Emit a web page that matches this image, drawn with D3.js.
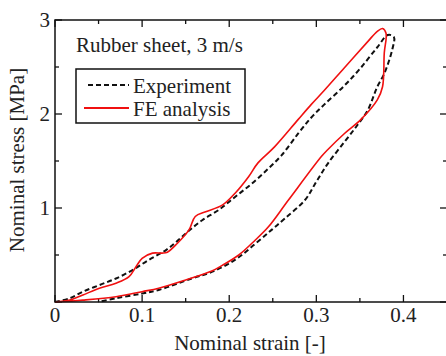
<!DOCTYPE html>
<html>
<head>
<meta charset="utf-8">
<script src="https://cdn.jsdelivr.net/npm/d3@7"></script>
<style>
  body { margin: 0; background: #fff; }
  svg { display: block; }
  text { font-family: "Liberation Serif", "Times New Roman", serif; fill: #222; }
</style>
</head>
<body>
<div id="chart"></div>
<script>
// data (loading then unloading, one loop per series)
const expStrain = [0, 0.017, 0.032, 0.051, 0.07, 0.089, 0.108, 0.127, 0.14, 0.154, 0.169, 0.188, 0.207, 0.226, 0.245, 0.26, 0.279, 0.294, 0.309, 0.332, 0.35, 0.37, 0.382, 0.389,
  0.387, 0.378, 0.37, 0.359, 0.347, 0.332, 0.313, 0.3, 0.287, 0.264, 0.249, 0.23, 0.207, 0.18, 0.157, 0.119, 0.1, 0.07, 0.05];
const expStress = [0, 0.04, 0.11, 0.18, 0.25, 0.34, 0.45, 0.55, 0.645, 0.76, 0.87, 0.98, 1.12, 1.26, 1.42, 1.56, 1.79, 1.96, 2.1, 2.3, 2.48, 2.71, 2.84, 2.82,
  2.68, 2.43, 2.29, 2.04, 1.88, 1.7, 1.47, 1.28, 1.085, 0.89, 0.77, 0.62, 0.45, 0.32, 0.25, 0.128, 0.09, 0.04, 0];
const feStrain = [0, 0.017, 0.032, 0.051, 0.07, 0.085, 0.093, 0.1, 0.112, 0.123, 0.129, 0.14, 0.154, 0.161, 0.173, 0.192, 0.207, 0.222, 0.233, 0.252, 0.279, 0.294, 0.309, 0.332, 0.359, 0.37, 0.376, 0.38,
  0.378, 0.376, 0.37, 0.351, 0.332, 0.313, 0.306, 0.268, 0.245, 0.23, 0.211, 0.192, 0.18, 0.15, 0.119, 0.1, 0.07, 0.032, 0];
const feStress = [0, 0.02, 0.075, 0.146, 0.2, 0.27, 0.375, 0.465, 0.52, 0.52, 0.53, 0.62, 0.77, 0.91, 0.96, 1.03, 1.16, 1.33, 1.48, 1.65, 1.94, 2.1, 2.25, 2.49, 2.77, 2.88, 2.91, 2.86,
  2.65, 2.29, 2.15, 1.94, 1.79, 1.62, 1.55, 1.085, 0.8, 0.66, 0.5, 0.39, 0.33, 0.234, 0.146, 0.11, 0.056, 0.02, 0];
const xTicks = [0, 0.1, 0.2, 0.3, 0.4];
const yTicks = [1, 2, 3];
const legendLabels = ['Experiment', 'FE analysis'];

const WIDTH = 446, HEIGHT = 356;
const margin = { left: 55, top: 20, right: 447, bottom: 302 };

const svg = d3.select('#chart').append('svg')
  .attr('width', WIDTH).attr('height', HEIGHT);

const x = d3.scaleLinear().domain([0, 0.45]).range([margin.left, margin.right]);
const y = d3.scaleLinear().domain([0, 3]).range([margin.bottom, margin.top]);

// inward ticks on all sides
const xMinor = d3.range(0, 0.451, 0.05);
const yMinor = d3.range(0, 3.01, 0.5);
const isMajorX = (v) => Math.abs(v * 10 - Math.round(v * 10)) < 1e-6;
const isMajorY = (v) => Math.abs(v - Math.round(v)) < 1e-6;

const tickG = svg.append('g').attr('stroke', '#111').attr('stroke-width', 1.3);
xMinor.forEach((v) => {
  const len = isMajorX(v) ? 7 : 4;
  tickG.append('line').attr('x1', x(v)).attr('x2', x(v)).attr('y1', margin.bottom).attr('y2', margin.bottom - len);
  tickG.append('line').attr('x1', x(v)).attr('x2', x(v)).attr('y1', margin.top).attr('y2', margin.top + len);
});
yMinor.forEach((v) => {
  const len = isMajorY(v) ? 7 : 4;
  tickG.append('line').attr('y1', y(v)).attr('y2', y(v)).attr('x1', margin.left).attr('x2', margin.left + len);
  tickG.append('line').attr('y1', y(v)).attr('y2', y(v)).attr('x1', margin.right).attr('x2', margin.right - len);
});

// curves
const line = d3.line()
  .x((d) => x(d[0])).y((d) => y(d[1]))
  .curve(d3.curveCatmullRom.alpha(0.5));
const expData = expStrain.map((v, i) => [v, expStress[i]]);
const feData = feStrain.map((v, i) => [v, feStress[i]]);

svg.append('path').datum(expData)
  .attr('d', line).attr('fill', 'none')
  .attr('stroke', '#111').attr('stroke-width', 2)
  .attr('stroke-dasharray', '5,3');

svg.append('path').datum(feData)
  .attr('d', line).attr('fill', 'none')
  .attr('stroke', '#f01010').attr('stroke-width', 1.6)
  .attr('stroke-linejoin', 'round');

// frame
svg.append('rect')
  .attr('x', margin.left).attr('y', margin.top)
  .attr('width', margin.right - margin.left).attr('height', margin.bottom - margin.top)
  .attr('fill', 'none').attr('stroke', '#111').attr('stroke-width', 1.5);

// tick labels
svg.selectAll('.xlab').data(xTicks).join('text')
  .attr('x', (d) => x(d)).attr('y', 322)
  .attr('text-anchor', 'middle').attr('font-size', 21)
  .text((d) => d === 0 ? '0' : d3.format('.1f')(d));

svg.selectAll('.ylab').data(yTicks).join('text')
  .attr('x', 50).attr('y', (d) => y(d) + 7)
  .attr('text-anchor', 'end').attr('font-size', 21)
  .text((d) => d);

// axis titles
svg.append('text')
  .attr('x', 250).attr('y', 350)
  .attr('text-anchor', 'middle').attr('font-size', 21)
  .text('Nominal strain [-]');

svg.append('text')
  .attr('transform', 'translate(24,160) rotate(-90)')
  .attr('text-anchor', 'middle').attr('font-size', 21)
  .text('Nominal stress [MPa]');

// annotation + legend
svg.append('text')
  .attr('x', 76).attr('y', 52).attr('font-size', 21)
  .text('Rubber sheet, 3 m/s');

svg.append('rect')
  .attr('x', 76).attr('y', 69).attr('width', 169).attr('height', 54)
  .attr('fill', '#fff').attr('stroke', '#111').attr('stroke-width', 1.5);

svg.append('line')
  .attr('x1', 88).attr('x2', 129).attr('y1', 85).attr('y2', 85)
  .attr('stroke', '#111').attr('stroke-width', 2).attr('stroke-dasharray', '5,3');
svg.append('line')
  .attr('x1', 84).attr('x2', 129).attr('y1', 108).attr('y2', 108)
  .attr('stroke', '#f01010').attr('stroke-width', 1.8);

svg.selectAll('.leg').data(legendLabels).join('text')
  .attr('x', 133).attr('y', (d, i) => 93 + i * 23)
  .attr('font-size', 21)
  .text((d) => d);
</script>
</body>
</html>
